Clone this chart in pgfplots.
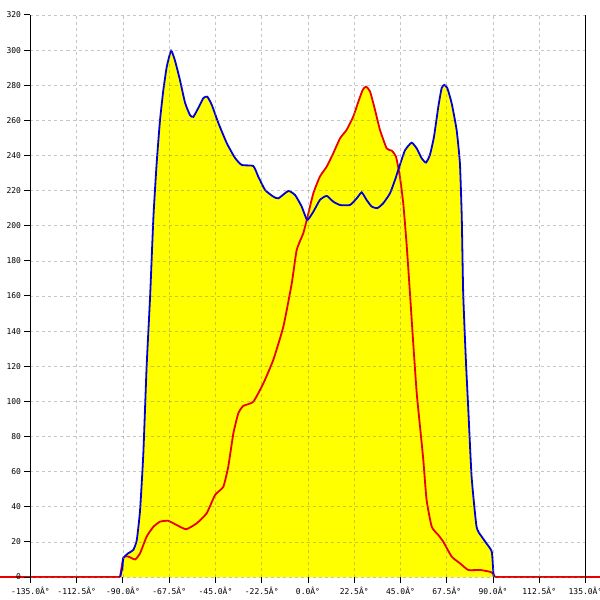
\documentclass[border=0pt]{standalone}
\usepackage{fontspec}
\setmainfont{Liberation Sans}
\setmonofont{DejaVu Sans Mono}
\usepackage{pgfplots}
\pgfplotsset{compat=1.18}
\definecolor{cblue}{RGB}{0,0,215}
\definecolor{cred}{RGB}{235,0,0}
\definecolor{cyel}{RGB}{255,255,0}
\begin{document}
\begin{tikzpicture}
\path[use as bounding box] (0,0) rectangle (600pt,600pt);
\begin{axis}[
  at={(30.5pt,23pt)}, anchor=south west,
  scale only axis, width=555pt, height=562pt,
  xmin=-135, xmax=135, ymin=0, ymax=320,
  clip=false,
  axis on top,
  axis x line=bottom, axis y line=box,
  x axis line style={draw=none},
  y axis line style={-, black, line width=1pt},
  xtick={-135,-112.5,...,135},
  xticklabels={-135.0Â°,-112.5Â°,-90.0Â°,-67.5Â°,-45.0Â°,-22.5Â°,0.0Â°,22.5Â°,45.0Â°,67.5Â°,90.0Â°,112.5Â°,135.0Â°},
  ytick={0,20,...,320},
  ytick pos=left,
  tick align=outside,
  major tick length=6pt,
  tick style={black, line width=1pt},
  /pgf/number format/assume math mode=true,
  ticklabel style={font=\ttfamily\fontsize{8}{9}\selectfont, text=black},
  xticklabel style={yshift=-1pt},
  grid=major,
  major grid style={gray, opacity=0.45, line width=0.6pt, dash pattern=on 3pt off 3pt},
]
\addplot[fill=cyel, draw=none, smooth, tension=0.3] coordinates {
(-91.4,0) (-90.2,6) (-89.8,10.8) (-87.5,13.5) (-85,15.4) (-83.3,21) (-81.7,38) (-80.1,70.6) (-78.5,120) (-76.8,160) (-75.2,205) (-73.6,236) (-72,260) (-70.4,277) (-68.7,290.6) (-66.6,299.7) (-64.7,294) (-62.3,283) (-59.8,270) (-57.4,263) (-55.8,262) (-53.4,267) (-50.9,272.7) (-49,273.5) (-46.8,268.8) (-43.6,258.5) (-39.5,247) (-35.5,238.6) (-32.2,234.6) (-26.6,234) (-24.2,228) (-20.9,220.4) (-16.9,216.6) (-14.4,215.6) (-9.6,219.8) (-6.3,217.5) (-3.1,211) (-0.4,203.3) (2.6,208) (5.8,214.7) (9.1,217) (12.3,213.7) (15.6,211.8) (20.4,211.8) (23.7,215.6) (26.1,219) (28.5,214.7) (31,210.9) (33.7,210) (36.6,212.8) (39.9,218.5) (42.3,226) (44.7,234.6) (47.2,243) (50.4,247.3) (52.9,244) (55.3,238.4) (57.4,236) (59.3,240.3) (61.3,250.7) (63.4,267.8) (65,278.3) (66.3,280.2) (67.8,278.3) (69.9,269.7) (72.3,254.6) (73.9,235.6) (74.8,205) (75.5,161.7) (76.8,123.6) (78,95) (79.6,57) (82,28.6) (84.5,23) (86.9,19) (89.4,14.4) (90.2,2) (90.4,0)
} \closedcycle;
\addplot[fill=cyel, draw=none, smooth, tension=0.3] coordinates {
(-91.4,0) (-89.8,11.2) (-87.4,11.6) (-84.1,10) (-81.7,13.5) (-78.5,23) (-75.2,28.6) (-72,31.5) (-68,32) (-63.9,29.6) (-59.3,27.2) (-54.1,30.6) (-49.3,36.3) (-45.2,46.7) (-41.2,51.4) (-38.8,62.8) (-36.3,81.8) (-33.9,93.2) (-31.5,97.4) (-26.6,99.8) (-21.7,110.3) (-16.9,123.6) (-12,142.5) (-7.9,167.2) (-5.5,186.2) (-2.3,195.7) (-0.6,203.3) (2.6,218.5) (5.8,228) (9.1,233.7) (12.3,241.3) (15.6,249.8) (18.8,254.6) (22,262.1) (24.5,270.7) (26.6,277.3) (28.2,279.2) (30.2,276.4) (32.6,266) (35,254.6) (38.3,244) (40.7,242.8) (42.8,239.4) (44.7,228) (46.4,212) (48,189) (49.6,161.6) (51.2,133) (52.9,104.6) (54.5,85.6) (56.1,66.6) (57.7,43.8) (60.2,28.6) (63.4,23.9) (65.8,20.1) (69.9,11.6) (73.9,7.8) (78,4) (83.7,4) (88.5,3) (91,0)
} \closedcycle;
\addplot[cred, line width=2pt] coordinates {(-149.8,0) (-91.4,0)};
\addplot[cred, line width=2pt] coordinates {(91,0) (142,0)};
\addplot[cred, line width=1.8pt, smooth, tension=0.3] coordinates {
(-91.4,0) (-89.8,11.2) (-87.4,11.6) (-84.1,10) (-81.7,13.5) (-78.5,23) (-75.2,28.6) (-72,31.5) (-68,32) (-63.9,29.6) (-59.3,27.2) (-54.1,30.6) (-49.3,36.3) (-45.2,46.7) (-41.2,51.4) (-38.8,62.8) (-36.3,81.8) (-33.9,93.2) (-31.5,97.4) (-26.6,99.8) (-21.7,110.3) (-16.9,123.6) (-12,142.5) (-7.9,167.2) (-5.5,186.2) (-2.3,195.7) (-0.6,203.3) (2.6,218.5) (5.8,228) (9.1,233.7) (12.3,241.3) (15.6,249.8) (18.8,254.6) (22,262.1) (24.5,270.7) (26.6,277.3) (28.2,279.2) (30.2,276.4) (32.6,266) (35,254.6) (38.3,244) (40.7,242.8) (42.8,239.4) (44.7,228) (46.4,212) (48,189) (49.6,161.6) (51.2,133) (52.9,104.6) (54.5,85.6) (56.1,66.6) (57.7,43.8) (60.2,28.6) (63.4,23.9) (65.8,20.1) (69.9,11.6) (73.9,7.8) (78,4) (83.7,4) (88.5,3) (90,2) (91,0)
};
\addplot[cblue, line width=1.8pt, smooth, tension=0.3] coordinates {
(-91.4,0) (-90.2,6) (-89.8,10.8) (-87.5,13.5) (-85,15.4) (-83.3,21) (-81.7,38) (-80.1,70.6) (-78.5,120) (-76.8,160) (-75.2,205) (-73.6,236) (-72,260) (-70.4,277) (-68.7,290.6) (-66.6,299.7) (-64.7,294) (-62.3,283) (-59.8,270) (-57.4,263) (-55.8,262) (-53.4,267) (-50.9,272.7) (-49,273.5) (-46.8,268.8) (-43.6,258.5) (-39.5,247) (-35.5,238.6) (-32.2,234.6) (-26.6,234) (-24.2,228) (-20.9,220.4) (-16.9,216.6) (-14.4,215.6) (-9.6,219.8) (-6.3,217.5) (-3.1,211) (-0.4,203.3) (2.6,208) (5.8,214.7) (9.1,217) (12.3,213.7) (15.6,211.8) (20.4,211.8) (23.7,215.6) (26.1,219) (28.5,214.7) (31,210.9) (33.7,210) (36.6,212.8) (39.9,218.5) (42.3,226) (44.7,234.6) (47.2,243) (50.4,247.3) (52.9,244) (55.3,238.4) (57.4,236) (59.3,240.3) (61.3,250.7) (63.4,267.8) (65,278.3) (66.3,280.2) (67.8,278.3) (69.9,269.7) (72.3,254.6) (73.9,235.6) (74.8,205) (75.5,161.7) (76.8,123.6) (78,95) (79.6,57) (82,28.6) (84.5,23) (86.9,19) (89.4,14.4) (90.2,2) (90.4,0)
};
\end{axis}
\end{tikzpicture}
\end{document}
